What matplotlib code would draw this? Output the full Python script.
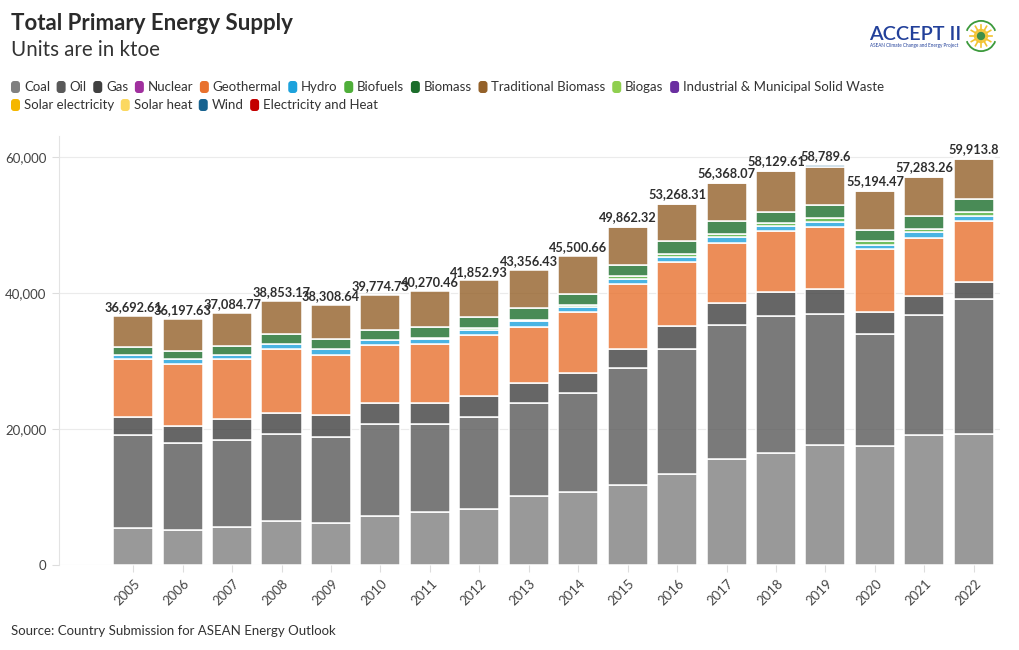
import matplotlib
matplotlib.use("Agg")
import matplotlib.pyplot as plt
import matplotlib.transforms as mtransforms
from matplotlib.patches import FancyBboxPatch, Circle, Arc
from matplotlib.colors import to_rgba
import numpy as np

plt.rcParams['font.family'] = ['Lato', 'DejaVu Sans']

# ---------------- data ----------------
years = ["2005", "2006", "2007", "2008", "2009", "2010", "2011", "2012", "2013",
         "2014", "2015", "2016", "2017", "2018", "2019", "2020", "2021", "2022"]

coal = [5446, 5152, 5545, 6525, 6182, 7164, 7802, 8194, 10157, 10796, 11776, 13346,
        15603, 16535, 17664, 17517, 19088, 19283]
oil = [13690, 12758, 12905, 12758, 12660, 13591, 12904, 13639, 13738, 14474, 17273, 18449,
       19725, 20022, 19283, 16388, 17662, 19775]
gas = [2601, 2551, 2990, 3141, 3188, 3045, 3189, 3092, 2845, 2944, 2795, 3288,
       3190, 3533, 3633, 3288, 2847, 2600]
nuclear = [0, 0, 0, 0, 0, 0, 0, 0, 0, 0, 0, 0, 0, 0, 0, 0, 0, 0]
geothermal = [8537, 9079, 8834, 9321, 8930, 8534, 8587, 8833, 8244, 8930, 9468, 9519,
              8832, 8976, 9124, 9275, 8537, 8979]
hydro = [686, 734, 589, 786, 835, 687, 785, 834, 834, 785, 787, 687,
         834, 736, 687, 636, 785, 736]
biofuels = [0, 0, 0, 0, 0, 0, 150, 200, 250, 350, 400, 420,
            539, 540, 589, 491, 540, 540]
biomass = [1178, 1276, 1422, 1422, 1472, 1571, 1518, 1618, 1665, 1514, 1660, 1886,
           1914, 1620, 2012, 1717, 1864, 1913]
traditional_biomass = [4554.61, 4647.63, 4799.77, 4900.17, 5041.64, 5182.73, 5335.46,
                       5442.93, 5623.43, 5707.66, 5603.32, 5573.31, 5531.07, 5967.61,
                       5597.6, 5682.47, 5760.26, 5887.8]
biogas = [0, 0, 0, 0, 0, 0, 0, 0, 0, 0, 0, 0, 0, 0, 0, 0, 0, 0]
msw = [0, 0, 0, 0, 0, 0, 0, 0, 0, 0, 0, 0, 0, 0, 0, 0, 0, 0]
solar_electricity = [0, 0, 0, 0, 0, 0, 0, 0, 0, 0, 0, 0, 0, 0, 0, 0, 0, 0]
solar_heat = [0, 0, 0, 0, 0, 0, 0, 0, 0, 0, 0, 0, 0, 0, 0, 0, 0, 0]
wind = [0, 0, 0, 0, 0, 0, 0, 0, 0, 0, 100, 100, 200, 200, 200, 200, 200, 200]
electricity_heat = [0, 0, 0, 0, 0, 0, 0, 0, 0, 0, 0, 0, 0, 0, 0, 0, 0, 0]

totals = [36692.61, 36197.63, 37084.77, 38853.17, 38308.64, 39774.73, 40270.46,
          41852.93, 43356.43, 45500.66, 49862.32, 53268.31, 56368.07, 58129.61,
          58789.6, 55194.47, 57283.26, 59913.8]

categories = ["Coal", "Oil", "Gas", "Nuclear", "Geothermal", "Hydro", "Biofuels",
              "Biomass", "Traditional Biomass", "Biogas",
              "Industrial & Municipal Solid Waste", "Solar electricity",
              "Solar heat", "Wind", "Electricity and Heat"]
series = [coal, oil, gas, nuclear, geothermal, hydro, biofuels, biomass,
          traditional_biomass, biogas, msw, solar_electricity, solar_heat, wind,
          electricity_heat]
colors = ["#808080", "#595959", "#404040", "#a0309e", "#e8712e", "#1da2dc",
          "#4fae3a", "#1c6e2c", "#946129", "#8fcf4f", "#6a2fa0", "#f5b700",
          "#fbd860", "#17628f", "#c40000"]

# ---------------- figure ----------------
W, H = 1020, 650
fig = plt.figure(figsize=(W / 100, H / 100), dpi=100)
fig.patch.set_facecolor("white")

def fx(px):
    return px / W

def fy(py):
    return 1 - py / H

ax = fig.add_axes([fx(59), fy(565), fx(1000) - fx(59), fy(136) - fy(565)])

x = np.arange(len(years))
bottom = np.zeros(len(years))
bw = 0.81
for name, vals, col in zip(categories, series, colors):
    vals = np.array(vals, dtype=float)
    mask = vals > 0
    if mask.any():
        ax.bar(x[mask], vals[mask], bw, bottom=bottom[mask],
               facecolor=to_rgba(col, 0.8), edgecolor="white", linewidth=1.1,
               zorder=3)
    bottom += vals

for xi, top, tot in zip(x, bottom, totals):
    ax.annotate(f"{tot:,}", (xi, top), xytext=(0, 2), textcoords="offset points",
                ha="center", va="bottom", fontsize=9.2, fontweight="bold",
                color="#2e2e2e", zorder=5)

ax.set_xlim(-1.5, len(years) - 0.47)
ax.set_ylim(0, 63100)
ax.set_yticks([0, 20000, 40000, 60000])
ax.set_yticklabels(["0", "20,000", "40,000", "60,000"])
ax.set_xticks(x)
ax.set_xticklabels(years, rotation=45, ha="right", va="center",
                   rotation_mode="anchor")
ax.tick_params(axis="y", length=5, color="#dddddd", labelsize=9.5,
               labelcolor="#444444", pad=4)
ax.tick_params(axis="x", length=5, color="#dddddd", labelsize=9.5,
               labelcolor="#444444", pad=7)
shift = mtransforms.ScaledTranslation(5 / 100, 0, fig.dpi_scale_trans)
for lbl in ax.get_xticklabels():
    lbl.set_transform(lbl.get_transform() + shift)
ax.grid(axis="y", color="#ebebeb", linewidth=0.8, zorder=0)
for s in ["top", "right", "bottom"]:
    ax.spines[s].set_visible(False)
ax.spines["left"].set_color("#e3e3e3")
ax.spines["left"].set_linewidth(0.8)
ax.set_axisbelow(True)

# ---------------- titles ----------------
fig.text(fx(11), fy(24), "Total Primary Energy Supply", fontsize=16,
         fontweight="bold", color="#2b2b2b", va="center", ha="left")
fig.text(fx(11), fy(50), "Units are in ktoe", fontsize=14.8,
         color="#333333", va="center", ha="left")
fig.text(fx(11), fy(631), "Source: Country Submission for ASEAN Energy Outlook",
         fontsize=9.5, color="#333333", va="center", ha="left")

# ---------------- legend (flowing) ----------------
fig.canvas.draw()
renderer = fig.canvas.get_renderer()
rows_y = [87, 105]
row = 0
lx = 11
for i, (name, col) in enumerate(zip(categories, colors)):
    if i == 11:
        row = 1
        lx = 11
    cy = rows_y[row]
    patch = FancyBboxPatch((fx(lx), fy(cy + 6)), fx(9), fy(cy - 6) - fy(cy + 6),
                           boxstyle="round,pad=0,rounding_size=0.003",
                           transform=fig.transFigure, facecolor=col,
                           edgecolor="none", mutation_aspect=W / H)
    fig.patches.append(patch)
    t = fig.text(fx(lx + 13), fy(cy), name, fontsize=9.5, color="#333333",
                 va="center", ha="left")
    bb = t.get_window_extent(renderer=renderer)
    lx = bb.x1 + 6.5

# ---------------- logo ----------------
fig.text(fx(869), fy(34), "ACCEPT II", fontsize=14.3, color="#22409a",
         va="center", ha="left", fontweight="semibold")
fig.text(fx(870), fy(46), "ASEAN Climate Change and Energy Project", fontsize=3.3,
         color="#22409a", va="center", ha="left")
lax = fig.add_axes([fx(963), fy(54), fx(36), fy(18) - fy(54)])
lax.set_xlim(-1.25, 1.25)
lax.set_ylim(-1.25, 1.25)
lax.set_aspect("equal")
lax.axis("off")
lax.add_patch(Arc((0, 0), 2.1, 2.1, theta1=20, theta2=160, color="#3c9a3c", lw=1.3))
lax.add_patch(Arc((0, 0), 2.1, 2.1, theta1=200, theta2=340, color="#3c9a3c", lw=1.3))
for ang in np.linspace(0, 2 * np.pi, 12, endpoint=False):
    lax.plot([0.45 * np.cos(ang), 0.78 * np.cos(ang)],
             [0.45 * np.sin(ang), 0.78 * np.sin(ang)], color="#f2c230", lw=1.2)
lax.add_patch(Circle((0, 0), 0.45, color="#f5c842"))
lax.add_patch(Circle((0, 0), 0.24, color="#3f8f4a"))

fig.savefig("out.png", dpi=100, facecolor="white")
